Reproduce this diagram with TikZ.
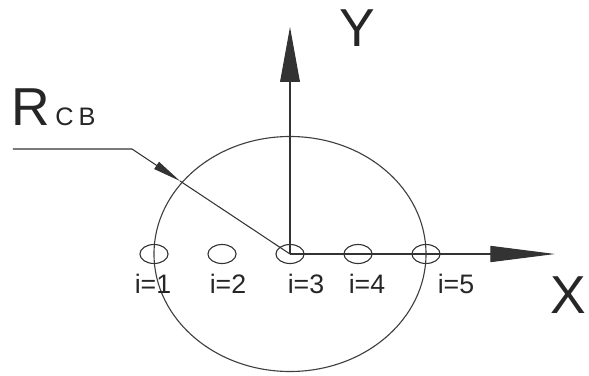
\documentclass[tikz,border=0pt]{standalone}
\usepackage{fontspec}
\setmainfont{Liberation Sans}
\usepackage{tikz}
\usetikzlibrary{arrows.meta,shapes.geometric}

\begin{document}
\begin{tikzpicture}[x=0.025cm, y=0.025cm,
          axis/.style={line width=0.75pt, black!80},
          rim/.style={line width=0.8pt, black!75},
          cell/.style={draw=black!80, line width=0.8pt, ellipse,
                      minimum width=20pt, minimum height=13.5pt, inner sep=0pt},
          lbl/.style={font=\fontsize{19}{19}\selectfont, anchor=base,
                      inner sep=0pt, text=black!85},
          big/.style={font=\fontsize{38}{38}\selectfont, anchor=base,
                      inner sep=0pt, text=black!85},
          yhead/.style={-{Triangle[length=39pt, width=14pt]}},
          xhead/.style={-{Triangle[length=46pt, width=11.5pt]}},
          leadhead/.style={-{Triangle[length=20pt, width=6pt]}}
        ]
          \useasboundingbox (-290,-121) rectangle (299,254);
          \coordinate (O) at (0,0);
          \coordinate (ytip) at (0,227);
          \coordinate (xtip) at (265,0);
          \draw[rim] (O) ellipse [x radius=136, y radius=117.5];
          \foreach \k/\px/\lx in {1/-136/-137, 2/-68/-62, 3/0/16, 4/68/77, 5/136/166} {
            \node[cell] (c\k) at (\px,0) {};
            \node[lbl] (l\k) at (\lx,-39) {i=\k};
          }
          \draw[axis, yhead] (O) -- (ytip);
          \draw[axis, xhead] (O) -- (xtip);
          \node[big] (ylbl) at (67,207) {Y};
          \node[big] (xlbl) at (278,-59) {X};
          \node[big, anchor=base west] (rcb) at (-279,129)
            {R\hspace{4pt}\fontsize{18}{18}\selectfont C\hspace{3.5pt}B};
          % leader to the radius
          \coordinate (lead) at (-277,105);
          \coordinate (bend) at (-158,105);
          \coordinate (hit) at (-110,73);
          \draw[axis, leadhead] (lead) -- (bend) -- (hit);
          \draw[axis] (hit) -- (O);
        \end{tikzpicture}
\end{document}
